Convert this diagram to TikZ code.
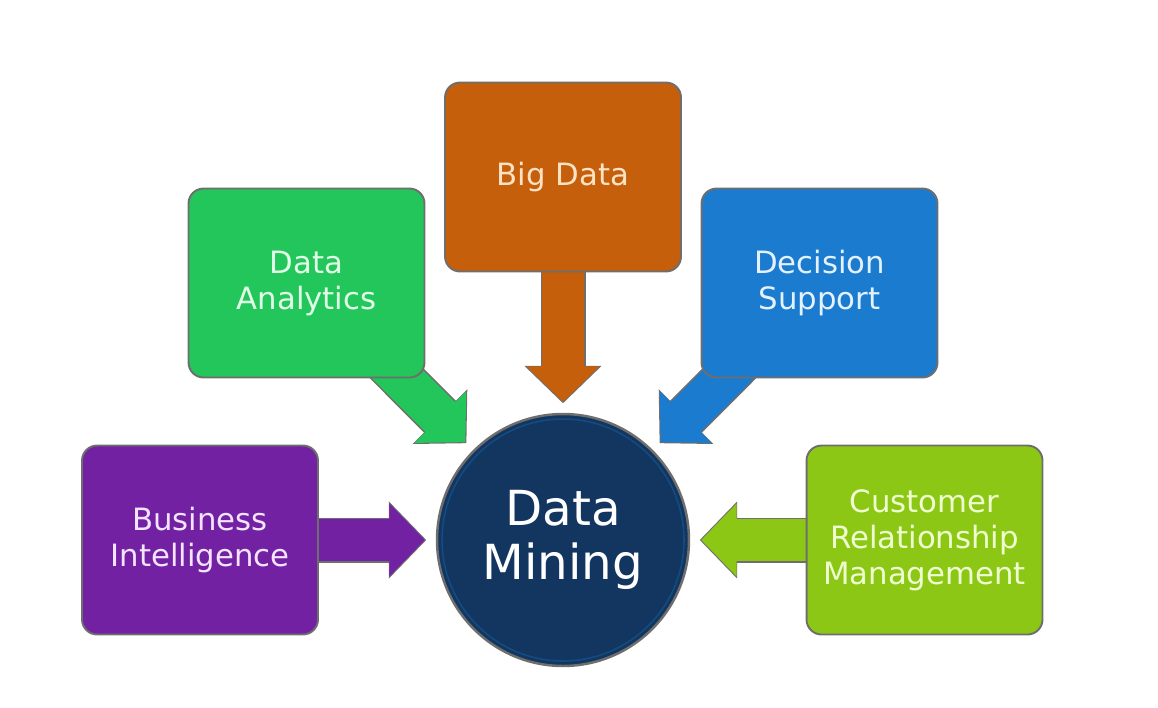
\documentclass[tikz,border=0pt]{standalone}
\usepackage{fontspec}
\setmainfont{DejaVu Sans}
\usetikzlibrary{arrows.meta,backgrounds}

\definecolor{edgegray}{HTML}{6E6E6E}
\definecolor{bdorange}{HTML}{C55F0B}
\definecolor{bdtext}{HTML}{FDE3C3}
\definecolor{dagreen}{HTML}{22C65B}
\definecolor{datext}{HTML}{E2FFE8}
\definecolor{dsblue}{HTML}{1A7BCF}
\definecolor{dstext}{HTML}{E4F1FF}
\definecolor{bipurple}{HTML}{7321A3}
\definecolor{bitext}{HTML}{F3E4FF}
\definecolor{crmlime}{HTML}{8CC716}
\definecolor{crmtext}{HTML}{EFFFCF}
\definecolor{dmnavy}{HTML}{12365F}

\begin{document}
\begin{tikzpicture}[x=0.02cm, y=-0.02cm,
    topic/.style={draw=edgegray, line width=1.1pt, rounded corners=0.3cm,
      minimum width=4.72cm, minimum height=3.78cm, align=center,
      font=\fontsize{17.5pt}{20.5pt}\selectfont},
    hub/.style={circle, draw=edgegray, line width=1.4pt, fill=dmnavy,
      minimum size=5.04cm, align=center, text=white,
      font=\fontsize{27.5pt}{30.5pt}\selectfont},
    fatrim/.style={edgegray, line width=0.9cm, shorten >=0.19cm,
      -{Triangle[width=1.5cm,length=0.75cm]}},
    fat/.style={line width=0.84cm, shorten >=0.22cm,
      -{Triangle[width=1.42cm,length=0.71cm]}}]
  \useasboundingbox (0, 0) rectangle (1158, 707);

  % the five topics round the hub
  \node[topic, fill=bdorange, text=bdtext] (bd) at (563, 177) {Big Data};
  \node[topic, fill=dagreen, text=datext] (da) at (306.5, 283) {Data\\Analytics};
  \node[topic, fill=dsblue, text=dstext] (ds) at (819.5, 283) {Decision\\Support};
  \node[topic, fill=bipurple, text=bitext] (bi) at (200, 540) {Business\\Intelligence};
  \node[topic, fill=crmlime, text=crmtext] (crm) at (924.5, 540) {Customer\\Relationship\\Management};

  \node[hub] (dm) at (563, 540) {Data\\Mining};
  \draw[color=dsblue!30!dmnavy, line width=0.9pt] (dm) circle (2.42cm);

  % fat arrows, under the boxes
  \begin{pgfonlayer}{background}
    \foreach \src/\col in {bd/bdorange, da/dagreen, ds/dsblue, bi/bipurple, crm/crmlime} {
      \draw[fatrim] (\src.center) -- (dm);
      \draw[fat, \col] (\src.center) -- (dm);
    }
  \end{pgfonlayer}
\end{tikzpicture}
\end{document}
